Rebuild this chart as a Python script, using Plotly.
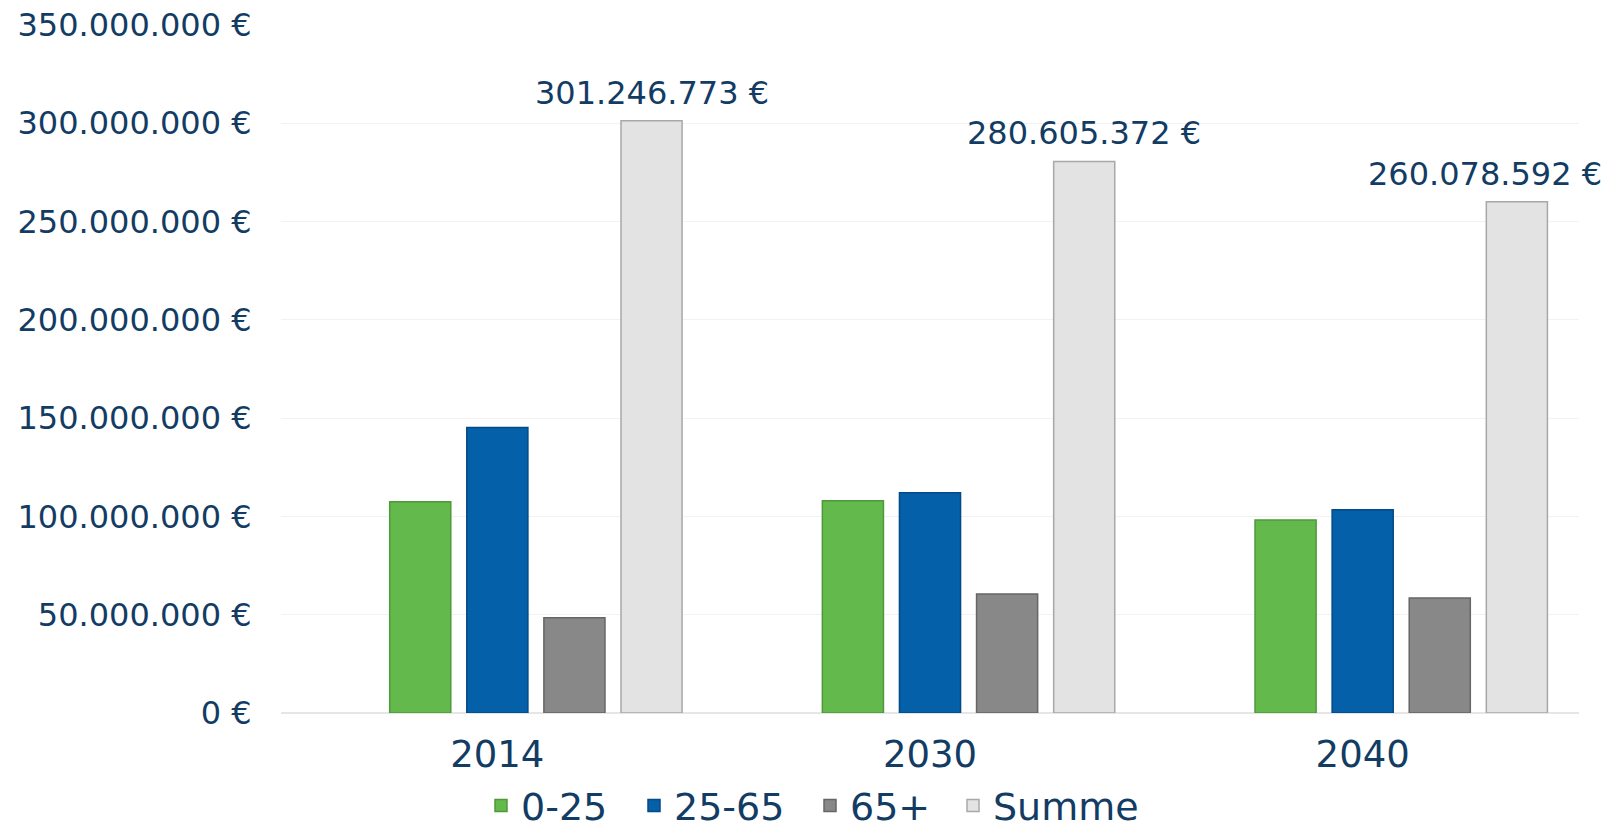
import plotly.graph_objects as go

years = ["2014", "2030", "2040"]
series_names = ["0-25", "25-65", "65+", "Summe"]
v_0_25 = [107_500_000, 108_000_000, 98_200_000]
v_25_65 = [145_200_000, 112_000_000, 103_400_000]
v_65_plus = [48_500_000, 60_600_000, 58_500_000]
v_summe = [301_246_773, 280_605_372, 260_078_592]
y_ticks = [0, 50_000_000, 100_000_000, 150_000_000, 200_000_000, 250_000_000, 300_000_000, 350_000_000]


def eur(v):
    return f"{v:,.0f}".replace(",", ".") + " €"


NAVY = "#133C64"
FONT = "DejaVu Sans"

fills = ["#64B94C", "#0560AA", "#888888", "#E3E3E3"]
lines = ["#4E9A3A", "#034A86", "#666666", "#A8A8A8"]
values = [v_0_25, v_25_65, v_65_plus, v_summe]

slot = 0.1782
bw = 0.1412
centers = [-slot, 0.0, slot, 2 * slot]

# page body has an 8px margin: figure is sized/offset to compensate
W, H = 1613, 817
ML, MR, MT, MB = 273, 42, 17, 112
plot_w = W - ML - MR

legend_ids = ["legend", "legend2", "legend3", "legend4"]
legend_left_px = [473, 626, 802, 945]
label_xshift = [0, 0, -32]  # last label nudged left to stay inside the figure

fig = go.Figure()
for i, (name, vals) in enumerate(zip(series_names, values)):
    fig.add_trace(go.Bar(
        x=years, y=vals, name=name,
        width=bw, offset=centers[i] - bw / 2,
        marker=dict(color=fills[i], line=dict(color=lines[i], width=1.5)),
        hoverinfo="skip",
        legend=legend_ids[i],
    ))

annotations = []
for j, v in enumerate(v_summe):
    annotations.append(dict(
        x=j + centers[3], y=v, xref="x", yref="y",
        text=eur(v), showarrow=False, yanchor="bottom", xanchor="center",
        yshift=7, xshift=label_xshift[j],
        font=dict(family=FONT, size=32, color=NAVY),
    ))

legend_common = dict(
    orientation="h", yanchor="middle", xanchor="left", y=-0.135,
    font=dict(family=FONT, size=38, color=NAVY),
    bgcolor="rgba(0,0,0,0)", borderwidth=0,
)
legends = {}
for lid, lx in zip(legend_ids, legend_left_px):
    legends[lid] = dict(legend_common, x=(lx - ML) / plot_w)

fig.update_layout(
    width=W, height=H,
    barmode="overlay",
    plot_bgcolor="white", paper_bgcolor="white",
    margin=dict(l=ML, r=MR, t=MT, b=MB, autoexpand=False),
    font=dict(family=FONT, color=NAVY),
    showlegend=True,
    annotations=annotations,
    xaxis=dict(
        type="category", range=[-0.5, 2.5], automargin=False,
        showgrid=False, showline=False, zeroline=False,
        ticks="outside", ticklen=9, tickcolor="rgba(0,0,0,0)",
        tickfont=dict(family=FONT, size=37, color=NAVY),
    ),
    yaxis=dict(
        range=[0, 350_000_000], automargin=False,
        tickvals=y_ticks, ticktext=[eur(v) for v in y_ticks],
        tickfont=dict(family=FONT, size=32, color=NAVY),
        ticklabeloverflow="allow",
        showgrid=True, gridcolor="#F2F2F2", gridwidth=1,
        zeroline=True, zerolinecolor="#E6E6E6", zerolinewidth=2,
        ticks="outside", ticklen=22, tickcolor="rgba(0,0,0,0)",
        showline=False,
    ),
    **legends,
)

fig.write_html("out.html")
